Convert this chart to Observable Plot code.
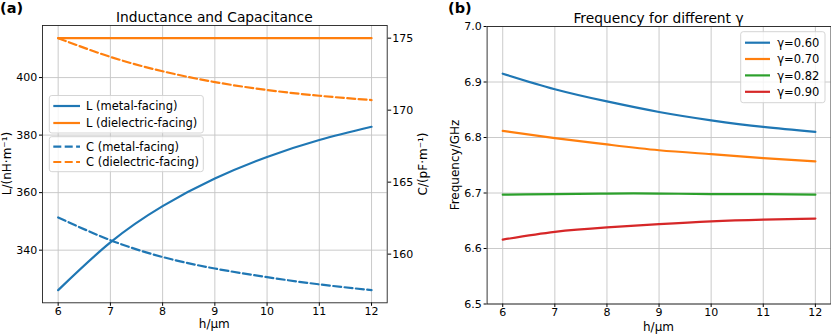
<!DOCTYPE html>
<html>
<head>
<meta charset="utf-8">
<script src="https://cdn.jsdelivr.net/npm/d3@7"></script>
<script src="https://cdn.jsdelivr.net/npm/@observablehq/plot@0.6"></script>
<style>
  html, body { margin: 0; padding: 0; background: white; }
  #fig { position: relative; width: 831px; height: 334px; font-family: "DejaVu Sans", sans-serif; color: black; }
  #fig > svg, #fig > div { position: absolute; top: 0; }
</style>
</head>
<body>
<div id="fig"></div>
<script>
// ---------- data ----------
const h = [6, 7, 8, 9, 10, 11, 12];
const L_metal = [326.1, 342.7, 355.3, 364.9, 372.4, 378.3, 382.9];
const L_diel  = [413.7, 413.7, 413.7, 413.7, 413.7, 413.7, 413.7];
const C_metal = [162.55, 160.97, 159.8, 159.0, 158.4, 157.9, 157.5];
const C_diel  = [175.0, 173.7, 172.7, 171.95, 171.4, 171.0, 170.7];
const gammas = ["γ=0.60", "γ=0.70", "γ=0.82", "γ=0.90"];
const f060 = [6.915, 6.887, 6.865, 6.846, 6.831, 6.819, 6.810];
const f070 = [6.812, 6.799, 6.7875, 6.777, 6.770, 6.763, 6.757];
const f082 = [6.697, 6.698, 6.699, 6.699, 6.698, 6.698, 6.697];
const f090 = [6.616, 6.630, 6.638, 6.644, 6.649, 6.652, 6.654];
const xTicks = [6, 7, 8, 9, 10, 11, 12];
const lTicks = [340, 360, 380, 400];
const cTicks = [160, 165, 170, 175];
const fTicks = [6.5, 6.6, 6.7, 6.8, 6.9, 7.0];
const lcNames = ["L (metal-facing)", "L (dielectric-facing)", "C (metal-facing)", "C (dielectric-facing)"];

// ---------- style ----------
const blue = "#1f77b4", orange = "#ff7f0e", green = "#2ca02c", red = "#d62728";
const LW = 2.2, DASH = "8,3.4";
const gridStyle = {stroke: "#c4c4c4", strokeOpacity: 1, strokeWidth: 0.9};
const baseStyle = {fontFamily: "DejaVu Sans", fontSize: "11px", color: "black", background: "transparent", overflow: "visible"};

const ser = (name, vals) => h.map((x, i) => ({h: x, v: vals[i], s: name}));

const fig = document.getElementById("fig");

// ---------- left panel: L (left axis) ----------
const W1 = 440;
const leftL = Plot.plot({
  width: W1, height: 334,
  marginLeft: 42, marginRight: W1 - 386.7, marginTop: 25, marginBottom: 334 - 302.3,
  style: baseStyle,
  x: {domain: [5.7, 12.3]},
  y: {domain: [321.7, 418.1]},
  marks: [
    Plot.gridX(xTicks, gridStyle),
    Plot.gridY(lTicks, gridStyle),
    Plot.axisX(xTicks, {tickSize: 3.5, tickPadding: 1, label: null, tickFormat: d => String(d)}),
    Plot.axisY(lTicks, {tickSize: 3, tickPadding: 2.3, label: null, tickFormat: d => String(d)}),
    Plot.line(ser(lcNames[0], L_metal), {x: "h", y: "v", stroke: blue, strokeWidth: LW, curve: "natural"}),
    Plot.line(ser(lcNames[1], L_diel), {x: "h", y: "v", stroke: orange, strokeWidth: LW, curve: "natural"}),
    Plot.frame({stroke: "#222", strokeWidth: 0.9})
  ]
});
leftL.style.left = "0px";
fig.appendChild(leftL);

// ---------- left panel: C (right axis, twin) ----------
const leftC = Plot.plot({
  width: W1, height: 334,
  marginLeft: 42, marginRight: W1 - 386.7, marginTop: 25, marginBottom: 334 - 302.3,
  style: baseStyle,
  x: {domain: [5.7, 12.3], axis: null},
  y: {domain: [156.62, 175.88]},
  marks: [
    Plot.axisY(cTicks, {anchor: "right", tickSize: 3.5, tickPadding: 1.5, label: null, tickFormat: d => String(d)}),
    Plot.line(ser(lcNames[2], C_metal), {x: "h", y: "v", stroke: blue, strokeWidth: LW, strokeDasharray: DASH, curve: "natural"}),
    Plot.line(ser(lcNames[3], C_diel), {x: "h", y: "v", stroke: orange, strokeWidth: LW, strokeDasharray: DASH, curve: "natural"})
  ]
});
leftC.style.left = "0px";
fig.appendChild(leftC);

// ---------- right panel: frequency ----------
const X2 = 440, W2 = 391;
const fColors = [blue, orange, green, red];
const fVals = [f060, f070, f082, f090];
const right = Plot.plot({
  width: W2, height: 334,
  marginLeft: 486.6 - X2, marginRight: 0.5, marginTop: 26, marginBottom: 30.5,
  style: baseStyle,
  x: {domain: [5.7, 12.3]},
  y: {domain: [6.5, 7.0]},
  marks: [
    Plot.gridX(xTicks, gridStyle),
    Plot.gridY(fTicks, gridStyle),
    Plot.axisX(xTicks, {tickSize: 3.5, tickPadding: 0.5, label: null, tickFormat: d => String(d)}),
    Plot.axisY(fTicks, {tickSize: 3, tickPadding: 2.3, label: null, tickFormat: d3.format(".1f")}),
    ...gammas.map((g, i) => Plot.line(ser(g, fVals[i]), {x: "h", y: "v", stroke: fColors[i], strokeWidth: LW, curve: "natural"})),
    Plot.frame({stroke: "#222", strokeWidth: 0.9})
  ]
});
right.style.left = X2 + "px";
fig.appendChild(right);

// ---------- overlay: titles, labels, legends ----------
const ov = d3.select(fig).append("svg")
  .attr("width", 831).attr("height", 334)
  .style("left", "0px")
  .attr("font-family", "DejaVu Sans");

function txt(x, y, s, opts = {}) {
  const t = ov.append("text").attr("x", x).attr("y", y).text(s)
    .attr("font-size", opts.size || 12)
    .attr("text-anchor", opts.anchor || "middle")
    .attr("fill", "black");
  if (opts.bold) t.attr("font-weight", "bold");
  if (opts.rotate) t.attr("transform", `rotate(-90 ${x} ${y})`).attr("dominant-baseline", "central");
  return t;
}

txt(0, 12.5, "(a)", {size: 14.5, anchor: "start", bold: true});
txt(448, 12.5, "(b)", {size: 14.5, anchor: "start", bold: true});
txt(214.3, 21.7, "Inductance and Capacitance", {size: 13.8});
txt(658.5, 22.5, "Frequency for different γ", {size: 13.8});
txt(214.3, 328, "h/μm", {size: 12});
txt(658.5, 330.5, "h/μm", {size: 12});
txt(6.5, 163.5, "L/(nH·m⁻¹)", {size: 12, rotate: true});
txt(422.5, 164, "C/(pF·m⁻¹)", {size: 12, rotate: true});
txt(455, 165, "Frequency/GHz", {size: 12, rotate: true});

function legend(x, y, w, hgt, items, rowY, lineX0, lineX1, textX) {
  ov.append("rect").attr("x", x).attr("y", y).attr("width", w).attr("height", hgt)
    .attr("rx", 2.5).attr("fill", "white").attr("fill-opacity", 0.8)
    .attr("stroke", "#d0d0d0").attr("stroke-width", 0.9);
  items.forEach((it, i) => {
    ov.append("line").attr("x1", lineX0).attr("x2", lineX1).attr("y1", rowY[i]).attr("y2", rowY[i])
      .attr("stroke", it.color).attr("stroke-width", LW)
      .attr("stroke-dasharray", it.dash ? DASH : null);
    ov.append("text").attr("x", textX).attr("y", rowY[i]).attr("dy", "0.36em")
      .attr("font-size", 11.5).attr("fill", "black").text(it.label);
  });
}

legend(49.3, 95.5, 154, 37.5,
  [{label: lcNames[0], color: blue}, {label: lcNames[1], color: orange}],
  [106, 123], 53.3, 80, 86);
legend(49.3, 136.7, 154, 35,
  [{label: lcNames[2], color: blue, dash: true}, {label: lcNames[3], color: orange, dash: true}],
  [146.7, 162], 53.3, 80, 86);
legend(740.7, 31.7, 84.3, 71,
  gammas.map((g, i) => ({label: g, color: fColors[i]})),
  [42.7, 59, 75.4, 91.8], 745, 770, 777.3);
</script>
</body>
</html>
